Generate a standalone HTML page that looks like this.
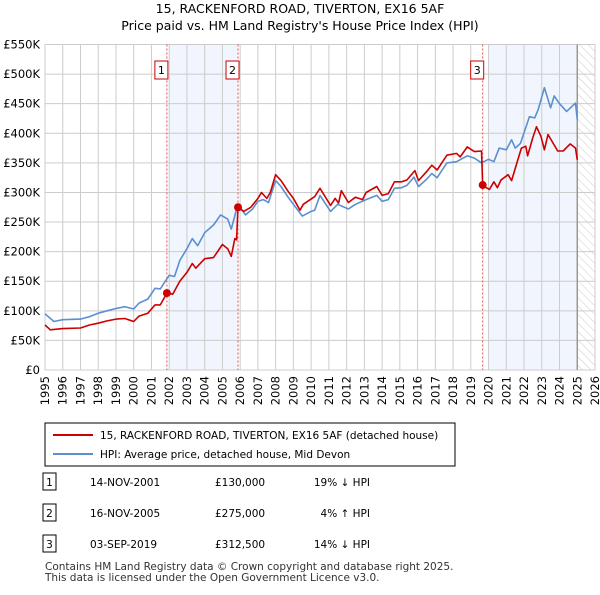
<!DOCTYPE html>
<html><head><meta charset="utf-8"><style>
body{margin:0;background:#fff;font-family:"Liberation Sans","DejaVu Sans",sans-serif;}
svg text{font-family:"DejaVu Sans","Liberation Sans",sans-serif;}
</style></head><body>
<svg id="c" width="600" height="590" viewBox="0 0 600 590">
<defs><pattern id="hatch" width="6" height="6" patternUnits="userSpaceOnUse" patternTransform="rotate(-45)"><line x1="0" y1="0" x2="0" y2="6" stroke="#ccc" stroke-width="1"/></pattern></defs>
<text x="300" y="13" text-anchor="middle" font-size="12.5" fill="#000">15, RACKENFORD ROAD, TIVERTON, EX16 5AF</text>
<text x="300" y="30" text-anchor="middle" font-size="12.5" fill="#000">Price paid vs. HM Land Registry's House Price Index (HPI)</text>
<g id="plot"></g>
<g>
<rect x="45" y="423" width="410" height="43" fill="#fff" stroke="#000" stroke-width="1"/>
<line x1="53" y1="435" x2="93" y2="435" stroke="#cc0000" stroke-width="2"/>
<text x="100" y="439" font-size="10.5">15, RACKENFORD ROAD, TIVERTON, EX16 5AF (detached house)</text>
<line x1="53" y1="454" x2="93" y2="454" stroke="#5b8fd0" stroke-width="2"/>
<text x="100" y="458" font-size="10.5">HPI: Average price, detached house, Mid Devon</text>
</g>
<g id="table" font-size="10.5"></g>
<text x="45" y="570" font-size="10.5" fill="#333">Contains HM Land Registry data © Crown copyright and database right 2025.</text>
<text x="45" y="581" font-size="10.5" fill="#333">This data is licensed under the Open Government Licence v3.0.</text>
</svg>
<script>
const hpiYears=[1995,1995.5,1996,1997,1997.5,1998,1998.5,1999,1999.5,2000,2000.3,2000.8,2001.2,2001.5,2002,2002.3,2002.6,2003,2003.3,2003.6,2004,2004.5,2004.9,2005.3,2005.5,2005.8,2006,2006.3,2006.7,2007,2007.3,2007.6,2008,2008.3,2008.7,2009,2009.5,2010,2010.2,2010.5,2011.1,2011.5,2012.1,2012.5,2013.1,2013.7,2014,2014.35,2014.7,2015.1,2015.4,2015.8,2016.05,2016.5,2016.8,2017.1,2017.65,2018.2,2018.8,2019.2,2019.6,2020.0,2020.3,2020.6,2021,2021.3,2021.5,2021.8,2022.3,2022.6,2022.8,2023.15,2023.5,2023.7,2024.0,2024.4,2024.9,2025.0];
const hpiValues=[95000,82000,85000,86000,90000,96000,100000,104000,107000,103000,113000,120000,138000,137000,160000,158000,185000,205000,222000,210000,232000,245000,262000,255000,238000,272000,275000,262000,272000,285000,288000,283000,320000,310000,292000,280000,260000,268000,270000,295000,268000,280000,272000,280000,288000,295000,285000,288000,307000,308000,312000,326000,310000,322000,332000,325000,350000,352000,362000,358000,350000,356000,352000,375000,372000,389000,375000,383000,428000,426000,440000,477000,443000,463000,450000,437000,451000,423000];
const ppYears=[1995,1995.3,1996,1997,1997.5,1998,1998.5,1999,1999.5,2000,2000.3,2000.8,2001.2,2001.5,2001.87,2002.2,2002.6,2003,2003.3,2003.5,2004,2004.5,2005,2005.3,2005.5,2005.7,2005.8,2005.88,2006.2,2006.6,2007,2007.2,2007.5,2007.7,2008,2008.3,2008.7,2009,2009.37,2009.56,2010.2,2010.5,2011.1,2011.35,2011.55,2011.7,2012.1,2012.5,2012.9,2013.1,2013.7,2014.0,2014.35,2014.7,2015.1,2015.4,2015.85,2016.05,2016.5,2016.8,2017.1,2017.65,2018.2,2018.4,2018.8,2019.2,2019.6,2019.67,2020.05,2020.3,2020.5,2020.7,2021.1,2021.3,2021.6,2021.85,2022.1,2022.2,2022.5,2022.7,2022.95,2023.15,2023.35,2023.9,2024.2,2024.6,2024.9,2025.0];
const ppValues=[76000,68000,70000,71000,76000,79000,83000,86000,87000,82000,91000,96000,110000,110000,130000,128000,150000,165000,180000,172000,188000,190000,212000,205000,192000,222000,220000,275000,268000,275000,290000,300000,290000,300000,330000,320000,302000,290000,270000,280000,293000,307000,278000,290000,282000,303000,283000,292000,288000,300000,310000,295000,298000,318000,318000,321000,337000,320000,335000,346000,338000,363000,366000,360000,377000,369000,370000,312000,305000,318000,308000,321000,330000,320000,350000,375000,378000,362000,393000,411000,395000,372000,398000,370000,370000,382000,375000,355000];
const saleYears=[2001.87,2005.88,2019.67];
const saleValues=[130000,275000,312500];
const saleLabels=["1","2","3"];
const saleDates=["14-NOV-2001","16-NOV-2005","03-SEP-2019"];
const salePrices=["£130,000","£275,000","£312,500"];
const saleHpi=["19% ↓ HPI","4% ↑ HPI","14% ↓ HPI"];
const yTicks=[0,50000,100000,150000,200000,250000,300000,350000,400000,450000,500000,550000];
const yTickLabels=["£0","£50K","£100K","£150K","£200K","£250K","£300K","£350K","£400K","£450K","£500K","£550K"];
const xTicks=[1995,1996,1997,1998,1999,2000,2001,2002,2003,2004,2005,2006,2007,2008,2009,2010,2011,2012,2013,2014,2015,2016,2017,2018,2019,2020,2021,2022,2023,2024,2025,2026];

const X0=45,X1=595,Y0=370,Y1=44.5;
const xs=y=>X0+(y-1995)/31*(X1-X0);
const ys=v=>Y0-v/550000*(Y0-Y1);
const NS="http://www.w3.org/2000/svg";
const plot=document.getElementById('plot');
function mk(tag,attrs,parent){const e=document.createElementNS(NS,tag);for(const k in attrs)e.setAttribute(k,attrs[k]);(parent||plot).appendChild(e);return e;}
// shaded periods
let r=mk('rect',{x:xs(2002.0),y:Y1,width:xs(saleYears[1])-xs(2002.0),height:Y0-Y1,fill:'#eef3fc',opacity:0.8});


r=mk('rect',{x:xs(2020.0),y:Y1,width:xs(2025.0)-xs(2020.0),height:Y0-Y1,fill:'#eef3fc',opacity:0.8});


r=mk('rect',{x:xs(2025.0),y:Y1,width:X1-xs(2025.0),height:Y0-Y1,fill:'url(#hatch)'});


// grid
xTicks.forEach((t,i)=>{
 const l=mk('line',{x1:xs(t),x2:xs(t),y1:Y1,y2:Y0,stroke:'#ccc','stroke-width':1});
 
 
 const tx=mk('text',{x:0,y:0,'font-size':11.5,'text-anchor':'end',transform:`translate(${xs(t)+4},${Y0+6}) rotate(-90)`});
 tx.textContent=t;
 
 
});
yTicks.forEach((t,i)=>{
 const l=mk('line',{x1:X0,x2:X1,y1:ys(t),y2:ys(t),stroke:'#ccc','stroke-width':1});
 
 
 const tx=mk('text',{x:40,y:ys(t)+4,'font-size':11.5,'text-anchor':'end'});
 tx.textContent=yTickLabels[i];
 
 
});
mk('line',{x1:xs(2025.0),x2:xs(2025.0),y1:Y1,y2:Y0,stroke:'#999','stroke-width':1.5});
// sale lines
saleYears.forEach((s,i)=>{
 const l=mk('line',{x1:xs(s),x2:xs(s),y1:Y1,y2:Y0,stroke:'#e05050','stroke-width':1,'stroke-dasharray':'2,2'});
 
 
 const b=mk('rect',{x:xs(s)-12,y:61,width:13,height:18,fill:'#fff',stroke:'#cc0000','stroke-width':1});
 
 
 const t=mk('text',{x:xs(s)-5.5,y:74,'font-size':11,'text-anchor':'middle'});
 t.textContent=saleLabels[i];
 
 
});
function path(xa,va){return xa.map((x,i)=>(i?'L':'M')+xs(x).toFixed(1)+','+ys(va[i]).toFixed(1)).join('');}
let p=mk('path',{d:path(hpiYears,hpiValues),fill:'none',stroke:'#5b8fd0','stroke-width':1.6,'stroke-linejoin':'round'});


p=mk('path',{d:path(ppYears,ppValues),fill:'none',stroke:'#cc0000','stroke-width':1.6,'stroke-linejoin':'round'});


saleYears.forEach((s,i)=>{
 const c=mk('circle',{cx:xs(s),cy:ys(saleValues[i]),r:4,fill:'#cc0000'});
 
 
});
// table
const tb=document.getElementById('table');
const rowY=[482,513,544];
saleLabels.forEach((lab,i)=>{
 const y=rowY[i];
 const b=mk('rect',{x:43,y:y-9,width:13,height:17,fill:'#fff',stroke:'#000','stroke-width':1},tb);
 
 
 const cells=[[49.5,lab,'middle'],[90,saleDates[i],'start'],[215,salePrices[i],'start'],[370,saleHpi[i],'end']];
 cells.forEach(c=>{
  const t=mk('text',{x:c[0],y:y+4,'text-anchor':c[2],'font-size':10.5},tb);
  t.textContent=c[1];
  
  
 });
});
</script>
</body></html>
